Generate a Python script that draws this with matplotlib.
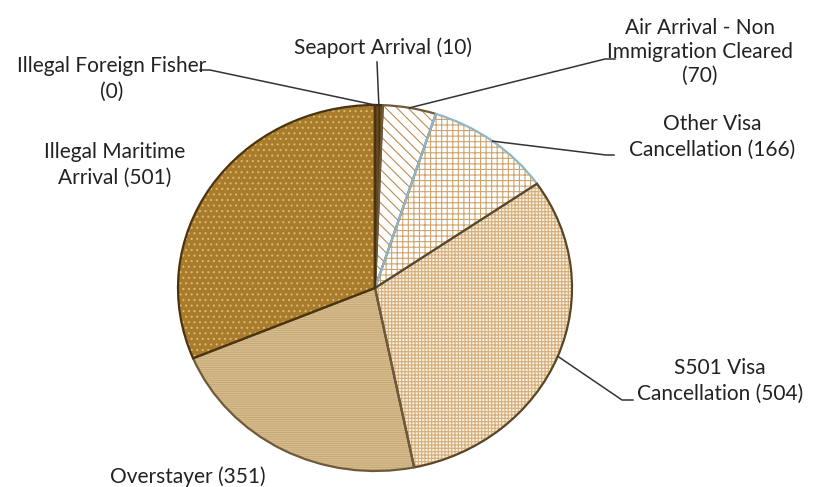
import numpy as np
import matplotlib
matplotlib.use("Agg")
import matplotlib.pyplot as plt

# data
labels = ['Seaport Arrival', 'Air Arrival - Non\nImmigration Cleared', 'Other Visa\nCancellation',
          'S501 Visa\nCancellation', 'Overstayer', 'Illegal Maritime\nArrival', 'Illegal Foreign Fisher']
values = [10, 70, 166, 504, 351, 501, 0]
# how the value is joined to the label text
joins = [' ', '\n', ' ', ' ', ' ', ' ', '\n']

face_colors = ['#6b4a1c', '#ffffff', '#ffffff', '#faf0dc', '#dcc59a', '#a97b2c', '#a97b2c']
hatch_colors = ['#3e2a0c', '#bf8d52', '#cfa46c', '#d4ad7c', '#c7a974', '#dcb768', '#dcb768']
hatches = ['||', '\\\\\\', '+++', '+++++', '---------', '...', '']
outline_colors = ['#3a2a10', '#6e5a3a', '#8fb6c4', '#5a4526', '#6e5a3a', '#4a3410', '#4a3410']

W, H = 813, 487
cx, cy, rx, ry = 375, 288, 197, 183


def px(x, y):
    # pixel position -> data coords (unit circle = pie edge)
    return (x - cx) / rx, (cy - y) / ry


plt.rcParams['font.family'] = ['Lato', 'DejaVu Sans']
plt.rcParams['hatch.linewidth'] = 0.8

fig = plt.figure(figsize=(W / 100, H / 100), dpi=100)
ax = fig.add_axes([0, 0, 1, 1])

wedges, _ = ax.pie(values, startangle=90, counterclock=False, colors=face_colors,
                   wedgeprops=dict(linewidth=0))
for w, hc, h in zip(wedges, hatch_colors, hatches):
    w.set_hatch(h)
    w.set_edgecolor(hc)

outline, _ = ax.pie(values, startangle=90, counterclock=False,
                    wedgeprops=dict(fill=False, linewidth=1.6))
for w, oc in zip(outline, outline_colors):
    w.set_edgecolor(oc)

ax.set_aspect('auto')
ax.set_xlim((0 - cx) / rx, (W - cx) / rx)
ax.set_ylim((cy - H) / ry, cy / ry)
ax.axis('off')

# label layout: text centre, leader start (or None)
layout = [
    ((383, 48), [(377, 62)]),
    ((700, 52), [(615, 59), (605, 59)]),
    ((712, 137), [(614, 155), (606, 155)]),
    ((720, 381), [(633, 400), (622, 400)]),
    ((188, 477), None),
    ((115, 165), None),
    ((112, 79), [(200, 70), (210, 70)]),
]
spacing = [1.3, 1.25, 1.4, 1.4, 1.3, 1.4, 1.4]

total = sum(values)
cum = 0
for lab, v, j, ls, (tpos, lead) in zip(labels, values, joins, spacing, layout):
    mid = 90 - (cum + v / 2) / total * 360
    cum += v
    text = lab + j + '(%d)' % v
    tx, ty = px(*tpos)
    ax.text(tx, ty, text, ha='center', va='center', fontsize=15, color='#222222',
            linespacing=ls)
    if lead:
        pts = [px(*p) for p in lead]
        pts.append((np.cos(np.radians(mid)), np.sin(np.radians(mid))))
        xs, ys = zip(*pts)
        ax.plot(xs, ys, color='#333333', linewidth=1.1)

fig.savefig('out.png', dpi=100)
